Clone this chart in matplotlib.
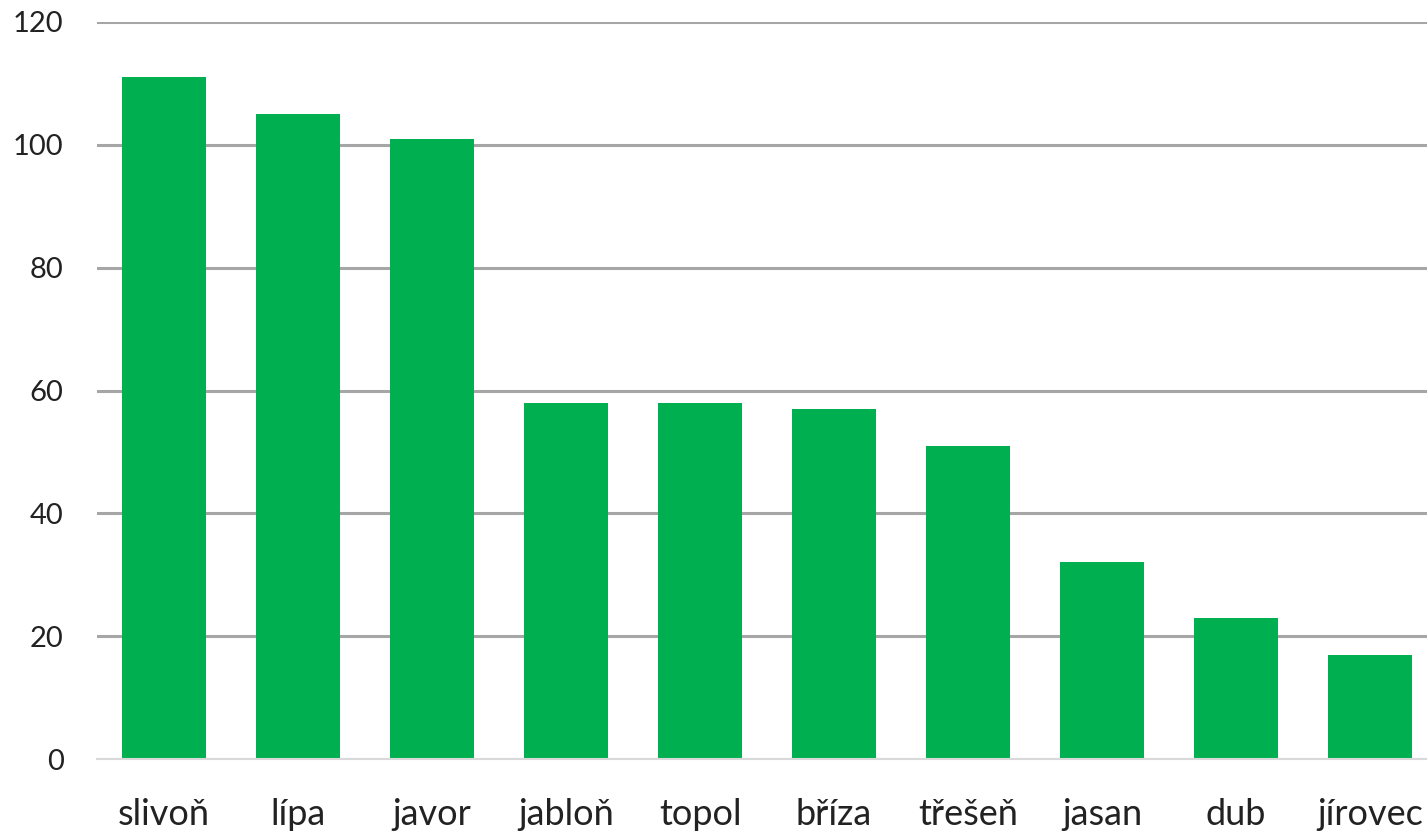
import matplotlib
matplotlib.use("Agg")
import matplotlib.pyplot as plt

# Data
categories = ["slivoň", "lípa", "javor", "jabloň", "topol", "bříza", "třešeň", "jasan", "dub", "jírovec"]
values = [111, 105, 101, 58, 58, 57, 51, 32, 23, 17]
y_ticks = [0, 20, 40, 60, 80, 100, 120]

plt.rcParams["font.family"] = ["Lato", "DejaVu Sans"]

fig = plt.figure(figsize=(14.27, 8.33), dpi=100)
ax = fig.add_axes([97 / 1427, 74 / 833, 1340 / 1427, 737 / 833])

x = range(len(categories))
ax.bar(x, values, width=0.63, color="#00B050", zorder=3)

ax.set_xlim(-0.5, len(categories) - 0.5)
ax.set_ylim(0, 120)
ax.set_yticks(y_ticks)
ax.set_xticks(list(x))
ax.set_xticklabels(categories)

ax.yaxis.grid(True, color="#A6A6A6", linewidth=2.2, zorder=0)
ax.set_axisbelow(True)
for s in ["top", "right", "left"]:
    ax.spines[s].set_visible(False)
ax.spines["bottom"].set_color("#D9D9D9")
ax.spines["bottom"].set_linewidth(1.5)
ax.spines["bottom"].set_zorder(4)

ax.tick_params(axis="both", length=0, colors="#222222")
ax.tick_params(axis="y", pad=24, labelsize=21)
ax.tick_params(axis="x", pad=28, labelsize=26)

fig.savefig("out.png", dpi=100)
